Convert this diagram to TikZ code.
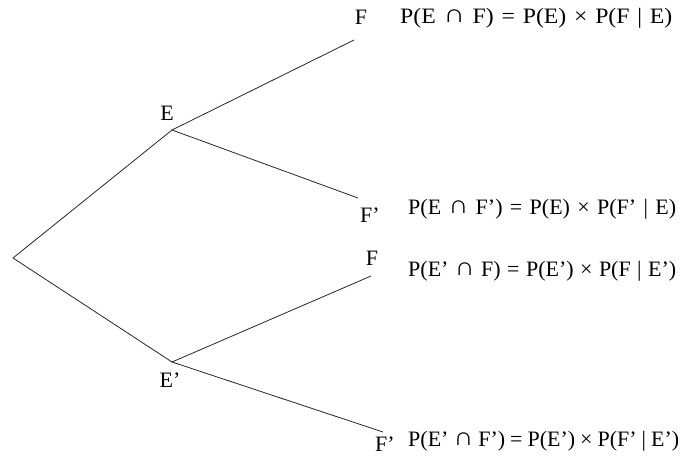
\documentclass[tikz,border=0pt]{standalone}
\usepackage{fontspec}
\setmainfont{Liberation Serif}
\newcommand{\capop}{\raisebox{0.02em}{\scalebox{1.25}[1.15]{\bfseries ∩}}}
\begin{document}
\begin{tikzpicture}[x=1pt,y=-1pt,
  branch/.style={line width=0.8pt,black!85},
  lbl/.style={inner sep=0pt,font=\fontsize{22}{22}\selectfont},
  formula/.style={inner sep=0pt,anchor=west,font=\fontsize{22}{22}\selectfont}]
\useasboundingbox (0,0) rectangle (680,456);
\coordinate (root) at (13,258);
\coordinate (e) at (172,130);
\coordinate (ep) at (172,362);
\coordinate (f1) at (354,40);
\coordinate (f2) at (358,198);
\coordinate (f3) at (371,276);
\coordinate (f4) at (383,432);
\draw[branch] (e) -- (root) -- (ep);
\draw[branch] (f1) -- (e) -- (f2);
\draw[branch] (f3) -- (ep) -- (f4);
\node[lbl] (le) at (167,113) {E};
\node[lbl] (lep) at (170,380) {E’};
\node[lbl] (lf1) at (361,17) {F};
\node[lbl] (lf2) at (370,215) {F’};
\node[lbl] (lf3) at (372,258) {F};
\node[lbl] (lf4) at (385,444) {F’};
\node[formula] (p1) at (400,18) {\scalebox{1.08}[1]{\makebox[252pt][s]{P(E \capop{} F) = P(E) × P(F | E)}}};
\node[formula] (p2) at (408,209) {\makebox[268pt][s]{P(E \capop{} F’) = P(E) × P(F’ | E)}};
\node[formula] (p3) at (408,271) {\makebox[268pt][s]{P(E’ \capop{} F) = P(E’) × P(F | E’)}};
\node[formula] (p4) at (408,441) {\makebox[271pt][s]{P(E’ \capop{} F’) = P(E’) × P(F’ | E’)}};
\end{tikzpicture}
\end{document}
